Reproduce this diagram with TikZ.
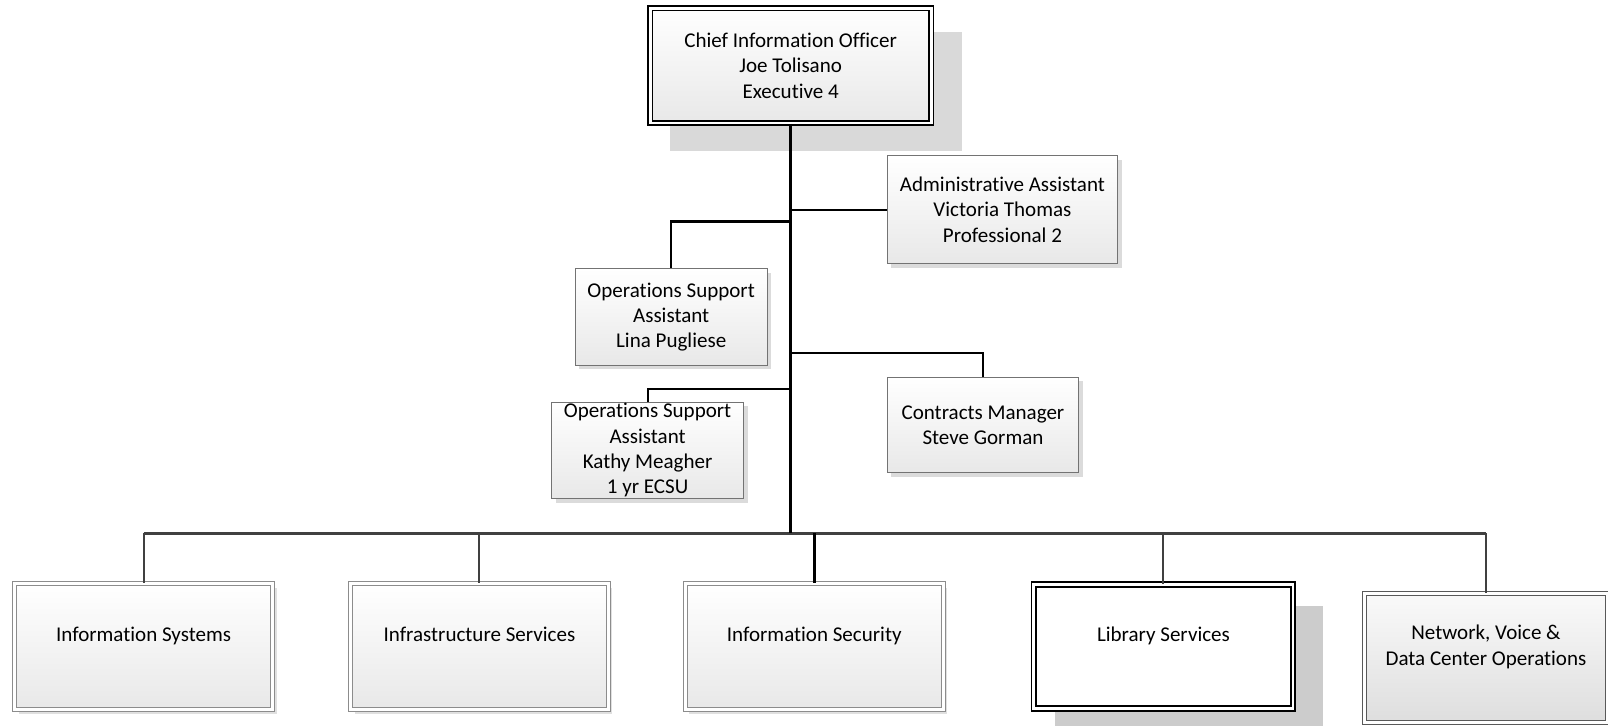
\documentclass[tikz,border=0pt]{standalone}
\usepackage{fontspec}
\setmainfont{Carlito}[Ligatures={NoCommon}]
\usetikzlibrary{shadows}
\begin{document}
\begin{tikzpicture}[x=1pt,y=-1pt,
  every node/.style={font=\fontsize{20.5}{24.6}\selectfont, align=center, inner sep=0pt},
  grad/.style={top color=white, bottom color=black!9},
  smallbox/.style={rectangle, draw=black!55, line width=0.9pt, grad,
    drop shadow={shadow xshift=4pt, shadow yshift=-4pt, fill=black!14, opacity=1}},
  ciobox/.style={rectangle, draw=black, line width=1.6pt, double=white, double distance=2.6pt, grad,
    minimum width=274pt, minimum height=112pt,
    drop shadow={shadow xshift=24pt, shadow yshift=-24pt, shadow scale=1.04, fill=black!15, opacity=1}},
  deptbox/.style={rectangle, draw=black!45, line width=0.8pt, double=white, double distance=3pt, grad,
    minimum width=251.5pt, minimum height=122.5pt,
    drop shadow={shadow xshift=4pt, shadow yshift=-4pt, fill=black!12, opacity=1}},
  libbox/.style={rectangle, draw=black, line width=1.8pt, double=white, double distance=2.8pt, fill=white,
    minimum width=252.6pt, minimum height=120.6pt,
    drop shadow={shadow xshift=24pt, shadow yshift=-22pt, shadow scale=1.035, fill=black!20, opacity=1}},
  netbox/.style={rectangle, draw=black!65, line width=0.9pt, double=white, double distance=3pt,
    top color=black!2, bottom color=black!13,
    minimum width=237pt, minimum height=126pt},
  trunk/.style={line width=3pt, black},
  branch/.style={line width=2pt, black},
  bus/.style={line width=2.5pt, black!75},
  drop/.style={line width=2pt, black!75}
]
\useasboundingbox (0,0) rectangle (1568,707);

\node[ciobox] (cio) at (771,64) {Chief Information Officer\\Joe Tolisano\\Executive 4};
\node[smallbox, minimum width=225pt, minimum height=105pt] (admin) at (977.5,204.5) {Administrative Assistant\\Victoria Thomas\\Professional 2};
\node[smallbox, minimum width=187pt, minimum height=94pt] (lina) at (654.5,309) {Operations Support\\Assistant\\Lina Pugliese};
\node[smallbox, minimum width=187pt, minimum height=93pt] (contracts) at (958.5,414.5) {Contracts Manager\\Steve Gorman};
\node[smallbox, minimum width=187pt, minimum height=94pt] (kathy) at (631.5,439) {Operations Support\\Assistant\\Kathy Meagher\\1 yr ECSU};

\node[deptbox] (is) at (140,630.5) {Information Systems\\\mbox{}};
\node[deptbox] (infra) at (467.5,630.5) {Infrastructure Services\\\mbox{}};
\node[deptbox] (sec) at (794,630.5) {Information Security\\\mbox{}};
\node[libbox] (lib) at (1134.5,630.5) {Library Services\\\mbox{}};
\node[netbox] (net) at (1449,641.5) {Network, Voice \&\\Data Center Operations\\\mbox{}};

\coordinate (busc) at (771,520);
\coordinate (jl) at (771,216);
\coordinate (jc) at (771,344);
\coordinate (jk) at (771,379);

\draw[bus] (is.north |- busc) -- (net.north |- busc);
\draw[trunk] (cio.south) -- (busc);
\draw[branch] (cio.south |- admin.west) -- (admin.west);
\draw[branch] (jl) -| (lina.north);
\draw[branch] (jc) -| (contracts.north);
\draw[branch] (jk) -| (kathy.north);

\draw[drop] (is.north |- busc) -- (is.north);
\draw[drop] (infra.north |- busc) -- (infra.north);
\draw[line width=2.5pt, black] (sec.north |- busc) -- (sec.north);
\draw[drop] (lib.north |- busc) -- (lib.north);
\draw[drop] (net.north |- busc) -- (net.north);
\end{tikzpicture}
\end{document}
